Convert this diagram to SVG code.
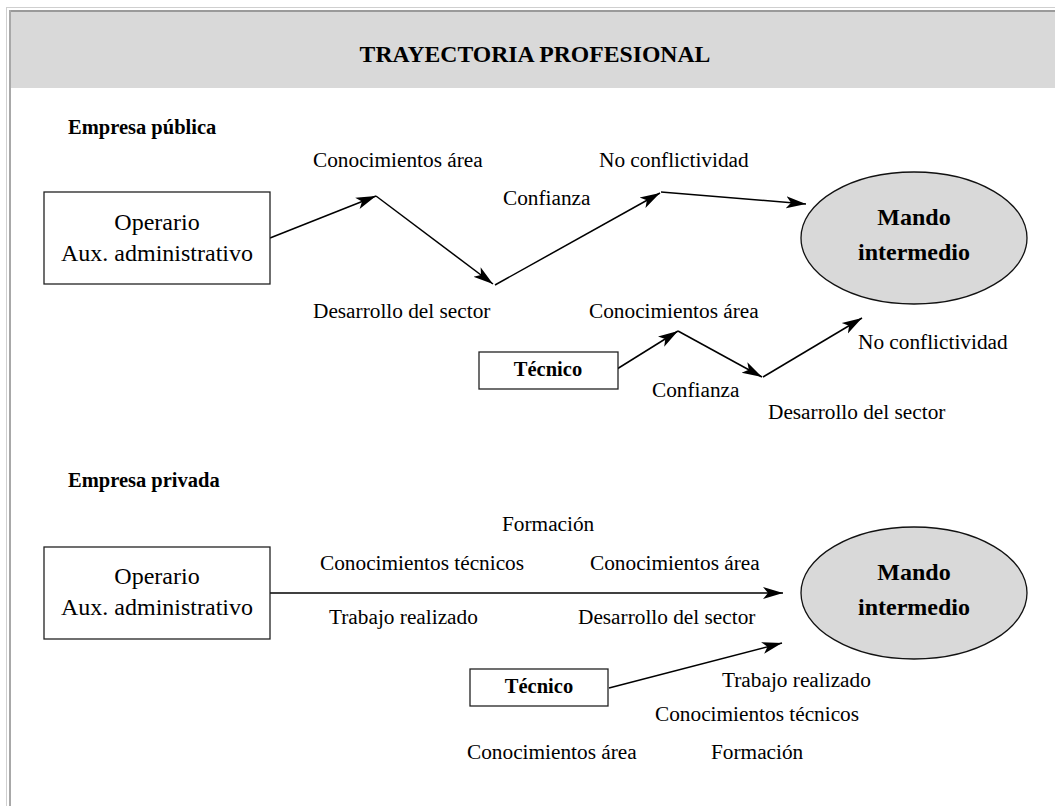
<svg xmlns="http://www.w3.org/2000/svg" width="1055" height="806" viewBox="0 0 1055 806">
<defs>
<style>
text{font-family:"Liberation Serif","Times New Roman",serif;fill:#000}
.lbl{font-size:21.3px}
.box{font-size:24px}
.b{font-weight:bold}
.node{fill:#fff;stroke:#222;stroke-width:1.3}
.ell{fill:#d9d9d9;stroke:#111;stroke-width:1.3}
.con line{stroke:#000;stroke-width:1.5;marker-end:url(#ah)}
</style>
<marker id="ah" markerWidth="22" markerHeight="14" refX="20" refY="7" orient="auto" markerUnits="userSpaceOnUse">
<path d="M0,1 L20,7 L0,13 L5,7 z" fill="#000"/>
</marker>
</defs>
<rect width="1055" height="806" fill="#fff"/>
<g id="frame">
<line x1="6" y1="7.5" x2="1055" y2="7.5" stroke="#cfcfcf" stroke-width="1"/>
<line x1="6.5" y1="7" x2="6.5" y2="806" stroke="#cfcfcf" stroke-width="1"/>
<rect x="9" y="10" width="1046" height="2" fill="#9a9a9a"/>
<rect x="9" y="10" width="2" height="796" fill="#a8a8a8"/>
<rect x="11" y="12" width="1044" height="76" fill="#d9d9d9"/>
</g>
<text x="535" y="62" class="b" font-size="23.7" text-anchor="middle">TRAYECTORIA PROFESIONAL</text>
<text x="68" y="134" class="b" font-size="20.5">Empresa pública</text>
<text x="68" y="487" class="b" font-size="20.5">Empresa privada</text>

<g id="connectors" class="con">
<line x1="270" y1="238" x2="376" y2="196"/>
<line x1="376" y1="196" x2="493" y2="284"/>
<line x1="495" y1="285" x2="660" y2="193"/>
<line x1="661" y1="192" x2="806" y2="204"/>
<line x1="617" y1="369" x2="678" y2="331"/>
<line x1="678" y1="331" x2="762" y2="377"/>
<line x1="763" y1="377" x2="862" y2="318"/>
<line x1="270" y1="593" x2="783" y2="593"/>
<line x1="609" y1="688" x2="782" y2="643"/>
</g>

<g id="operario-publica">
<rect class="node" x="44" y="192" width="226" height="92"/>
<text class="box" x="157" y="230" text-anchor="middle">Operario</text>
<text class="box" x="157" y="261" text-anchor="middle">Aux. administrativo</text>
</g>
<g id="mando-publica">
<ellipse class="ell" cx="914" cy="238" rx="113" ry="66"/>
<text class="box b" x="914" y="225" text-anchor="middle">Mando</text>
<text class="box b" x="914" y="260" text-anchor="middle">intermedio</text>
</g>
<g id="tecnico-publica">
<rect class="node" x="479" y="352" width="139" height="37"/>
<text class="b" font-size="20.5" x="548" y="376" text-anchor="middle">Técnico</text>
</g>

<g id="labels-publica">
<text class="lbl" x="313" y="167">Conocimientos área</text>
<text class="lbl" x="599" y="167">No conflictividad</text>
<text class="lbl" x="503" y="205">Confianza</text>
<text class="lbl" x="313" y="318">Desarrollo del sector</text>
<text class="lbl" x="589" y="318">Conocimientos área</text>
<text class="lbl" x="858" y="349">No conflictividad</text>
<text class="lbl" x="652" y="397">Confianza</text>
<text class="lbl" x="768" y="419">Desarrollo del sector</text>
</g>

<g id="operario-privada">
<rect class="node" x="44" y="547" width="226" height="92"/>
<text class="box" x="157" y="584" text-anchor="middle">Operario</text>
<text class="box" x="157" y="615" text-anchor="middle">Aux. administrativo</text>
</g>
<g id="mando-privada">
<ellipse class="ell" cx="914" cy="593" rx="113" ry="66"/>
<text class="box b" x="914" y="580" text-anchor="middle">Mando</text>
<text class="box b" x="914" y="615" text-anchor="middle">intermedio</text>
</g>
<g id="tecnico-privada">
<rect class="node" x="470" y="669" width="138" height="37"/>
<text class="b" font-size="20.5" x="539" y="693" text-anchor="middle">Técnico</text>
</g>

<g id="labels-privada">
<text class="lbl" x="502" y="531">Formación</text>
<text class="lbl" x="320" y="570">Conocimientos técnicos</text>
<text class="lbl" x="590" y="570">Conocimientos área</text>
<text class="lbl" x="329" y="624">Trabajo realizado</text>
<text class="lbl" x="578" y="624">Desarrollo del sector</text>
<text class="lbl" x="722" y="687">Trabajo realizado</text>
<text class="lbl" x="655" y="721">Conocimientos técnicos</text>
<text class="lbl" x="467" y="759">Conocimientos área</text>
<text class="lbl" x="711" y="759">Formación</text>
</g>
</svg>
